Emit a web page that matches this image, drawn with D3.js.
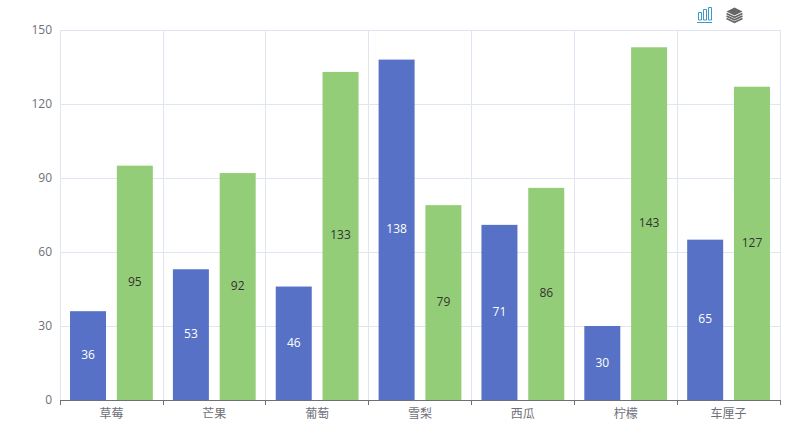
<!DOCTYPE html>
<html><head><meta charset="utf-8">
<script src="https://cdn.jsdelivr.net/npm/d3@7"></script>
<style>html,body{margin:0;padding:0;background:#fff}svg{display:block}text{font-family:"Open Sans","Noto Sans CJK SC",sans-serif;font-size:12px}</style>
</head><body><svg id="c" width="808" height="439"></svg>
<script>
const categories = ["草莓","芒果","葡萄","雪梨","西瓜","柠檬","车厘子"];
const seriesA = [36,53,46,138,71,30,65];
const seriesB = [95,92,133,79,86,143,127];
const yTicks = [0,30,60,90,120,150];
const colorA = "#5671c5", colorB = "#94cd78";

const svg = d3.select("#c");
const L=60,R=780,T=30,B=400;
const x = d3.scaleBand().domain(categories).range([L,R]);
const y = d3.scaleLinear().domain([0,150]).range([B,T]);
const grid = "#e0e6f1", axisC = "#6e7079";
const crisp = v => { const d = Math.round(v*2); return d%2 ? d/2 : (d+1)/2; };

// grid
svg.append("g").selectAll("line").data(yTicks.filter(d=>d>0)).join("line")
  .attr("x1",L).attr("x2",R+1).attr("y1",d=>crisp(y(d))).attr("y2",d=>crisp(y(d))).attr("stroke",grid);
const edges = categories.map(c=>x(c)).concat([R]);
svg.append("g").selectAll("line").data(edges).join("line")
  .attr("x1",crisp).attr("x2",crisp).attr("y1",T).attr("y2",B).attr("stroke",grid);

// bars
const bw = x.bandwidth()*0.35, gap = bw*0.3, off = (x.bandwidth()-2*bw-gap)/2;
const series = [{v:seriesA,c:colorA,o:off,t:"#fff"},{v:seriesB,c:colorB,o:off+bw+gap,t:"#333"}];
series.forEach(s=>{
  const g = svg.append("g");
  const data = categories.map((c,i)=>({c,v:s.v[i]}));
  g.selectAll("rect").data(data).join("rect")
    .attr("x",d=>x(d.c)+s.o).attr("width",bw)
    .attr("y",d=>y(d.v)).attr("height",d=>B-y(d.v)).attr("fill",s.c);
  g.selectAll("text").data(data).join("text")
    .attr("x",d=>x(d.c)+s.o+bw/2).attr("y",d=>(y(d.v)+B)/2-1)
    .attr("text-anchor","middle").attr("dominant-baseline","central")
    .attr("fill",s.t).text(d=>d.v);
});

// axes
const ax = svg.append("g");
ax.append("line").attr("x1",L).attr("x2",R+1).attr("y1",B+0.5).attr("y2",B+0.5).attr("stroke",axisC);
ax.selectAll(".t").data(edges).join("line").attr("class","t")
  .attr("x1",crisp).attr("x2",crisp).attr("y1",B).attr("y2",B+5).attr("stroke",axisC);
ax.selectAll(".xl").data(categories).join("text").attr("class","xl")
  .attr("x",d=>x(d)+x.bandwidth()/2).attr("y",B+13).attr("text-anchor","middle")
  .attr("dominant-baseline","central").attr("fill",axisC).text(d=>d);
ax.selectAll(".yl").data(yTicks).join("text").attr("class","yl")
  .attr("x",L-8).attr("y",d=>y(d)-1).attr("text-anchor","end")
  .attr("dominant-baseline","central").attr("fill",axisC).text(d=>d);

// toolbox icons
const tb = svg.append("g").attr("fill","none");
const blue = "#3e98c5";
tb.append("path").attr("stroke",blue).attr("stroke-width",1)
  .attr("d","M698.5 12.5h3v7.5h-3zM703.5 9.5h3v10.5h-3zM708.5 7.5h3v12.5h-3z");
tb.append("path").attr("stroke",blue).attr("stroke-width",1).attr("d","M697 22.5h15");
tb.append("path").attr("fill","#666")
  .attr("d","M734.5 7.5L742.5 11.5L734.5 15.5L726.5 11.5Z");
tb.append("path").attr("stroke","#666").attr("stroke-width",1.6)
  .attr("d","M726.5 13.5l8 3.8l8-3.8M726.5 16l8 3.8l8-3.8M726.5 18.5l8 3.8l8-3.8");
</script></body></html>
